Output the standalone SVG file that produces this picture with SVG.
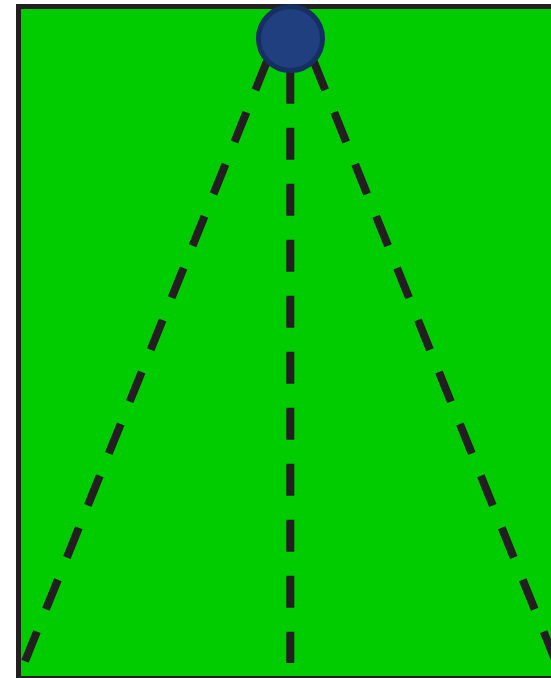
<svg xmlns="http://www.w3.org/2000/svg" width="551" height="678" viewBox="0 0 551 678">
  <style>
    .field { fill: #00CC00; stroke: #231F20; stroke-width: 5; }
    .ray { stroke: #231F20; stroke-width: 8; stroke-dasharray: 32 24; fill: none; stroke-linecap: butt; }
    .lamp { fill: #1F3F7F; stroke: #152F62; stroke-width: 5; }
  </style>
  <rect width="551" height="678" fill="#FFFFFF"/>
  <g id="field">
    <rect class="field" x="18.5" y="6.5" width="545" height="672"/>
  </g>
  <g id="connectors">
    <line class="ray" x1="288.3" y1="8.4" x2="24.3" y2="663"/>
    <line class="ray" x1="290.3" y1="71.7" x2="290.3" y2="663"/>
    <line class="ray" x1="292.3" y1="8.4" x2="556.3" y2="663"/>
  </g>
  <g id="lamp">
    <circle class="lamp" cx="290.5" cy="38.5" r="32"/>
  </g>
</svg>
